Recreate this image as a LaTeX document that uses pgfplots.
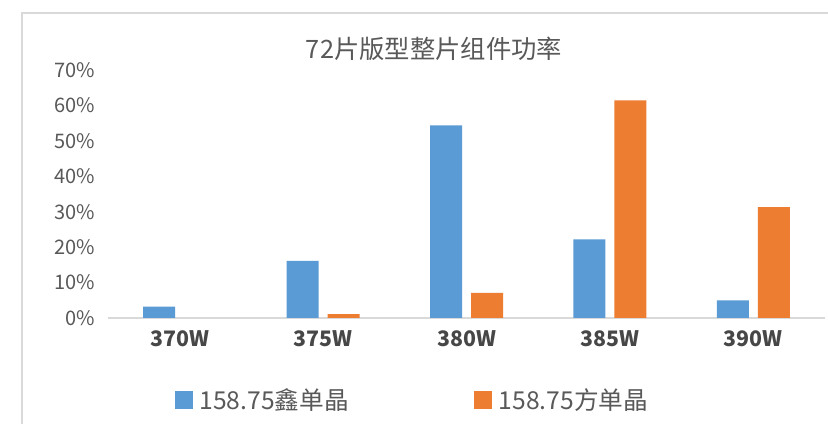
\documentclass[border=0pt]{standalone}
\usepackage{fontspec}
\setmainfont{Noto Sans CJK SC}
\usepackage{pgfplots}
\pgfplotsset{compat=1.18}

\definecolor{xblue}{HTML}{5B9BD5}
\definecolor{xorange}{HTML}{ED7D31}
\definecolor{txt}{HTML}{595959}
\definecolor{frame}{HTML}{D9D9D9}

\begin{document}
\begin{tikzpicture}
\useasboundingbox (0,0) rectangle (621pt,318pt);
\fill[white] (0,0) rectangle (621pt,318pt);
% chart frame
\draw[frame, line width=0.8pt] (16.5pt,0) -- (16.5pt,308.25pt) -- (621pt,308.25pt);
% title
\node[text=txt, font=\fontsize{19}{22}\selectfont] at (325.5pt,281pt) {72片版型整片组件功率};

\begin{axis}[
  at={(81pt,79.5pt)}, anchor=south west,
  scale only axis,
  width=537.75pt, height=186pt,
  ybar=6.75pt, bar width=24pt,
  xmin=-0.5, xmax=4.5,
  ymin=0, ymax=70,
  xtick=data,
  xticklabels={370W,375W,380W,385W,390W},
  ytick={0,10,...,70},
  yticklabel={\pgfmathprintnumber{\tick}\%},
  /pgf/number format/assume math mode=true,
  major tick length=0pt,
  axis x line*=bottom, axis y line*=left,
  y axis line style={draw=none},
  x axis line style={draw=frame, line width=1pt},
  xticklabel style={font=\bfseries\fontsize{16}{18}\selectfont, text=txt!80!black, yshift=-6pt},
  yticklabel style={font=\fontsize{15}{17}\selectfont, text=txt, xshift=-6pt},
  legend style={at={(0.425,-0.33)}, anchor=center, draw=none, fill=none,
    legend columns=2, font=\fontsize{18.5}{21}\selectfont, text=txt,
    /tikz/every even column/.append style={column sep=92pt}},
  legend image code/.code={\fill[#1] (0pt,-6.5pt) rectangle (13.5pt,6.5pt); \path (16.5pt,0pt);},
]
\addplot[fill=xblue, draw=none] coordinates {
  (0,3.2) (1,16.1) (2,54.4) (3,22.2) (4,5.0)
};
\addlegendentry{158.75鑫单晶}
\addplot[fill=xorange, draw=none] coordinates {
  (1,1.1) (2,7.1) (3,61.4) (4,31.3)
};
\addlegendentry{158.75方单晶}
\end{axis}
\end{tikzpicture}
\end{document}
